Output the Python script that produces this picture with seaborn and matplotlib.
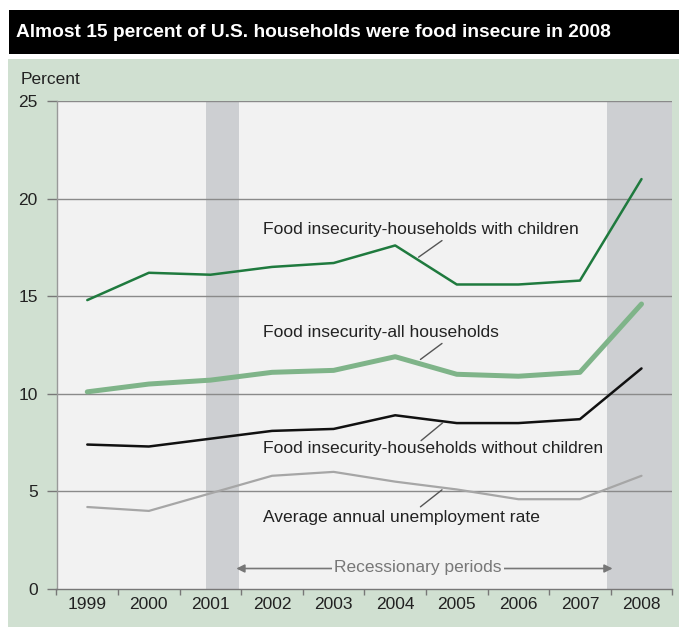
import matplotlib
matplotlib.use("Agg")
import matplotlib.pyplot as plt
from matplotlib.patches import Rectangle
import seaborn as sns
import pandas as pd
import numpy as np

years = ["1999", "2000", "2001", "2002", "2003", "2004", "2005", "2006", "2007", "2008"]
with_children = [14.8, 16.2, 16.1, 16.5, 16.7, 17.6, 15.6, 15.6, 15.8, 21.0]
all_households = [10.1, 10.5, 10.7, 11.1, 11.2, 11.9, 11.0, 10.9, 11.1, 14.6]
without_children = [7.4, 7.3, 7.7, 8.1, 8.2, 8.9, 8.5, 8.5, 8.7, 11.3]
unemployment = [4.2, 4.0, 4.9, 5.8, 6.0, 5.5, 5.1, 4.6, 4.6, 5.8]
y_ticks = [0, 5, 10, 15, 20, 25]
recessions = [(1.93, 2.47), (8.44, 9.5)]

title = "Almost 15 percent of U.S. households were food insecure in 2008"

sns.set_theme(style="white")
plt.rcParams["font.family"] = ["Liberation Sans", "DejaVu Sans"]

W, H = 679, 627
fig = plt.figure(figsize=(W / 100, H / 100), dpi=100)
fig.patch.set_facecolor("white")

def px(x0, y0, x1, y1):
    return (x0 / W, 1 - y1 / H, (x1 - x0) / W, (y1 - y0) / H)

# title bar
l, b, w, h = px(9, 10, 679, 54)
fig.patches.append(Rectangle((l, b), w, h, transform=fig.transFigure, facecolor="black", edgecolor="none", zorder=-10))
fig.text(16 / W, 1 - 32.5 / H, title, color="white", fontsize=13.8, fontweight="bold", va="center", ha="left")

# green panel
l, b, w, h = px(8, 59, 679, 627)
fig.patches.append(Rectangle((l, b), w, h, transform=fig.transFigure, facecolor="#d0e0d1", edgecolor="none", zorder=-10))

ax = fig.add_axes(px(56.5, 101, 672.3, 589))
ax.set_zorder(1)
ax.set_facecolor("#f2f2f2")

for x0, x1 in recessions:
    ax.axvspan(x0, x1, color="#cdcfd2", lw=0, zorder=0.5)

for yv in y_ticks[1:]:
    ax.axhline(yv, color="#8a8a8a", lw=1.0, zorder=1)

idx = np.arange(len(years))
df = pd.DataFrame({"idx": idx, "with": with_children, "all": all_households,
                   "without": without_children, "unemp": unemployment})

sns.lineplot(data=df, x="idx", y="unemp", color="#a6a6a6", lw=1.6, ax=ax, zorder=3)
sns.lineplot(data=df, x="idx", y="without", color="#111111", lw=1.8, ax=ax, zorder=3)
sns.lineplot(data=df, x="idx", y="all", color="#7fb489", lw=3.6, ax=ax, zorder=3)
sns.lineplot(data=df, x="idx", y="with", color="#1f7a3e", lw=1.8, ax=ax, zorder=3)

ax.set_xlim(-0.5, 9.5)
ax.set_ylim(0, 25)
ax.set_xlabel("")
ax.set_ylabel("")

ax.set_xticks(np.arange(-0.5, 10, 1.0))
ax.set_xticklabels([])
ax.set_xticks(idx, minor=True)
ax.set_xticklabels(years, minor=True)
ax.tick_params(axis="x", which="major", direction="out", length=4, width=1, color="#777777", bottom=True)
ax.tick_params(axis="x", which="minor", length=0, pad=6, labelsize=12.5, labelcolor="#222222")
ax.set_yticks(y_ticks)
ax.set_yticklabels([str(v) for v in y_ticks])
ax.tick_params(axis="y", direction="out", length=7.5, width=1, color="#777777", left=True, pad=6, labelsize=12.5, labelcolor="#222222")

for s in ["top", "right"]:
    ax.spines[s].set_visible(False)
ax.spines["left"].set_color("#999999")
ax.spines["bottom"].set_color("#777777")
ax.spines["left"].set_linewidth(1)
ax.spines["bottom"].set_linewidth(1)

fig.text(20.5 / W, 1 - 80 / H, "Percent", fontsize=12.5, color="#222222", va="center", ha="left")

lab_kw = dict(fontsize=12.6, color="#222222", va="center", ha="left", zorder=5)
ax.text(2.86, 18.43, "Food insecurity-households with children", **lab_kw)
ax.text(2.86, 13.16, "Food insecurity-all households", **lab_kw)
ax.text(2.86, 7.2, "Food insecurity-households without children", **lab_kw)
ax.text(2.86, 3.66, "Average annual unemployment rate", **lab_kw)

leaders = [((5.76, 17.85), (5.38, 17.0)),
           ((5.76, 12.58), (5.41, 11.76)),
           ((5.77, 8.51), (5.42, 7.6)),
           ((5.76, 5.08), (5.41, 4.21))]
for (xa, ya), (xb, yb) in leaders:
    ax.plot([xa, xb], [ya, yb], color="#555555", lw=1.0, zorder=4)

# recession arrow
ax.annotate("", xy=(2.42, 1.05), xytext=(5.3, 1.05),
            arrowprops=dict(arrowstyle="-|>", color="#777777", lw=1.2, mutation_scale=12, shrinkA=0, shrinkB=0), zorder=5)
ax.annotate("", xy=(8.53, 1.05), xytext=(5.3, 1.05),
            arrowprops=dict(arrowstyle="-|>", color="#777777", lw=1.2, mutation_scale=12, shrinkA=0, shrinkB=0), zorder=5)
ax.text(5.37, 1.1, "Recessionary periods", fontsize=12.5, color="#777777", ha="center", va="center",
        bbox=dict(facecolor="#f2f2f2", edgecolor="none", pad=1.5), zorder=6)

fig.savefig("out.png", dpi=100)
